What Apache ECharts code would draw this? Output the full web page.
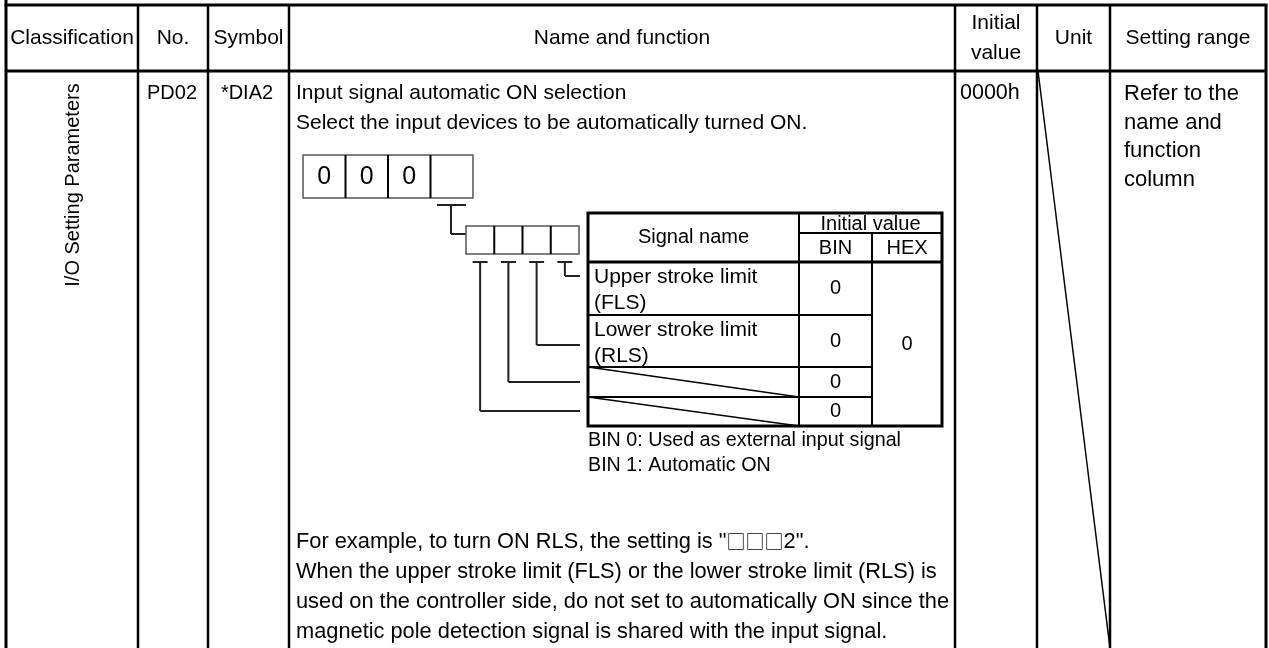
<!DOCTYPE html>
<html>
<head>
<meta charset="utf-8">
<script src="https://cdn.jsdelivr.net/npm/echarts@6/dist/echarts.min.js"></script>
<style>
html,body{margin:0;padding:0;background:#fff;}
#chart{width:1269px;height:648px;}
</style>
</head>
<body>
<div id="chart"></div>
<script>
// ---------- data (text content) ----------
const headerLabels = ["Classification", "No.", "Symbol", "Name and function", "Initial\nvalue", "Unit", "Setting range"];
const classification = "I/O Setting Parameters";
const paramNo = "PD02";
const paramSymbol = "*DIA2";
const nameLines = ["Input signal automatic ON selection", "Select the input devices to be automatically turned ON."];
const digitBoxes = ["0", "0", "0", ""];
const initialValue = "0000h";
const settingRange = ["Refer to the", "name and", "function", "column"];
const signalHeader = ["Signal name", "Initial value", "BIN", "HEX"];
const signalNames = [["Upper stroke limit", "(FLS)"], ["Lower stroke limit", "(RLS)"], [], []];
const binValues = ["0", "0", "0", "0"];
const hexValue = "0";
const binNotes = ["BIN 0: Used as external input signal", "BIN 1: Automatic ON"];
const exampleParts = ["For example, to turn ON RLS, the setting is \"", "\u25A1\u25A1\u25A1", "2\"."];
const noteLines = [
  "When the upper stroke limit (FLS) or the lower stroke limit (RLS) is",
  "used on the controller side, do not set to automatically ON since the",
  "magnetic pole detection signal is shared with the input signal."
];

// ---------- layout ----------
const FONT = "'Liberation Sans', Arial, sans-serif";
const cols = [6, 138, 208, 289, 955, 1037, 1110, 1266];
const T = 5, HB = 71, B = 652;
const els = [];
function line(x1, y1, x2, y2, w, c) {
  els.push({type: 'line', shape: {x1, y1, x2, y2}, style: {stroke: c || '#000', lineWidth: w || 2}, silent: true});
}
function rect(x, y, w, h, lw, c) {
  els.push({type: 'rect', shape: {x, y, width: w, height: h}, style: {fill: 'none', stroke: c || '#000', lineWidth: lw || 2}, silent: true});
}
function text(x, y, s, size, align, extra, styleExtra) {
  const e = {type: 'text', x, y, silent: true,
    style: Object.assign({text: s, fill: '#000', font: (size || 21) + 'px ' + FONT,
      align: align || 'left', verticalAlign: 'middle',
      textAlign: align || 'left', textVerticalAlign: 'middle', lineHeight: 30}, styleExtra || {})};
  Object.assign(e, extra || {});
  els.push(e);
}

// main grid
line(cols[0] - 1.5, T, cols[7] + 1.5, T, 3);
line(cols[0], HB, cols[7], HB, 3);
cols.forEach((x, i) => line(x, i === 0 ? 0 : T, x, B, (i === 0 || i === 7) ? 3 : 2.5));
// unit diagonal
line(1038, HB, 1110, 648, 1.5);

// header
const hy = 38;
for (let i = 0; i < 7; i++) {
  const cx = (cols[i] + cols[i + 1]) / 2;
  text(cx, hy, headerLabels[i], 21, 'center');
}

// body
text(73, 185, classification, 20, 'center', {rotation: Math.PI / 2});
text(172, 93, paramNo, 20, 'center');
text(247, 93, paramSymbol, 20, 'center');
text(296, 93, nameLines[0], 21);
text(296, 123, nameLines[1], 21);
text(960, 93, initialValue, 21.5, 'left');
settingRange.forEach((s, i) => text(1124, 94 + i * 28.5, s, 22));

// digit boxes
const bx = 303, by = 155, bw = 42.5, bh = 43;
rect(bx, by, bw * 4, bh, 1.5, '#555');
for (let i = 1; i < 4; i++) line(bx + bw * i, by, bx + bw * i, by + bh, 2);
digitBoxes.forEach((d, i) => text(bx + bw * i + bw / 2, by + bh / 2 + 1, d, 25, 'center'));

// connector to small boxes
const cc = '#222';
line(437, 205, 466, 205, 2, cc);
line(451, 205, 451, 234, 2, cc);
line(451, 234, 466, 234, 2, cc);
const sx = 466, sy = 226, sw = 28.25, sh = 28;
rect(sx, sy, sw * 4, sh, 1.5, '#555');
for (let i = 1; i < 4; i++) line(sx + sw * i, sy, sx + sw * i, sy + sh, 2);
// ticks below small boxes
const bitY = [411, 382, 345, 276];
for (let i = 0; i < 4; i++) {
  const cx = sx + sw * i + sw / 2;
  line(cx - 7.5, 262, cx + 7.5, 262, 2, cc);
  line(cx, 262, cx, bitY[i], 2, cc);
  line(cx, bitY[i], 580, bitY[i], 2, cc);
}

// signal table
const tL = 588, tR = 942, tT = 213, tH = 262, c1 = 799, c2 = 872, sub = 233;
const rows = [262, 315, 367, 397, 426];
rect(tL, tT, tR - tL, rows[4] - tT, 3);
line(tL, tH, tR, tH, 3);
line(c1, tT, c1, rows[4], 2);
line(c2, sub, c2, rows[4], 2);
line(c1, sub, tR, sub, 2);
for (let r = 1; r < 4; r++) line(tL, rows[r], c2, rows[r], 2);
line(tL, rows[2], c1, rows[3], 1.5);
line(tL, rows[3], c1, rows[4], 1.5);
text((tL + c1) / 2, (tT + tH) / 2, signalHeader[0], 20, 'center');
text((c1 + tR) / 2, (tT + sub) / 2 + 1, signalHeader[1], 20, 'center');
text((c1 + c2) / 2, (sub + tH) / 2 + 1, signalHeader[2], 20, 'center');
text((c2 + tR) / 2, (sub + tH) / 2 + 1, signalHeader[3], 20, 'center');
signalNames.forEach((ln, r) => {
  ln.forEach((s, k) => text(tL + 6, rows[r] + 15 + k * 26, s, 21));
});
binValues.forEach((v, r) => text((c1 + c2) / 2, (rows[r] + rows[r + 1]) / 2, v, 20, 'center'));
text((c2 + tR) / 2, (rows[0] + rows[4]) / 2, hexValue, 20, 'center');

binNotes.forEach((s, i) => text(588, 441 + i * 25, s, 19.7));

// notes: first line with CJK squares
text(296, 542, exampleParts[0] + '{sq|' + exampleParts[1] + '}' + exampleParts[2], 21.8, 'left', null,
  {rich: {sq: {fontFamily: "'Noto Sans CJK JP'", fontSize: 19, fill: '#000'}}});
noteLines.forEach((s, i) => text(296, 572 + i * 30, s, 21.8));

const chart = echarts.init(document.getElementById('chart'), null, {renderer: 'canvas'});
chart.setOption({
  backgroundColor: '#fff',
  animation: false,
  graphic: {elements: els}
});
</script>
</body>
</html>
